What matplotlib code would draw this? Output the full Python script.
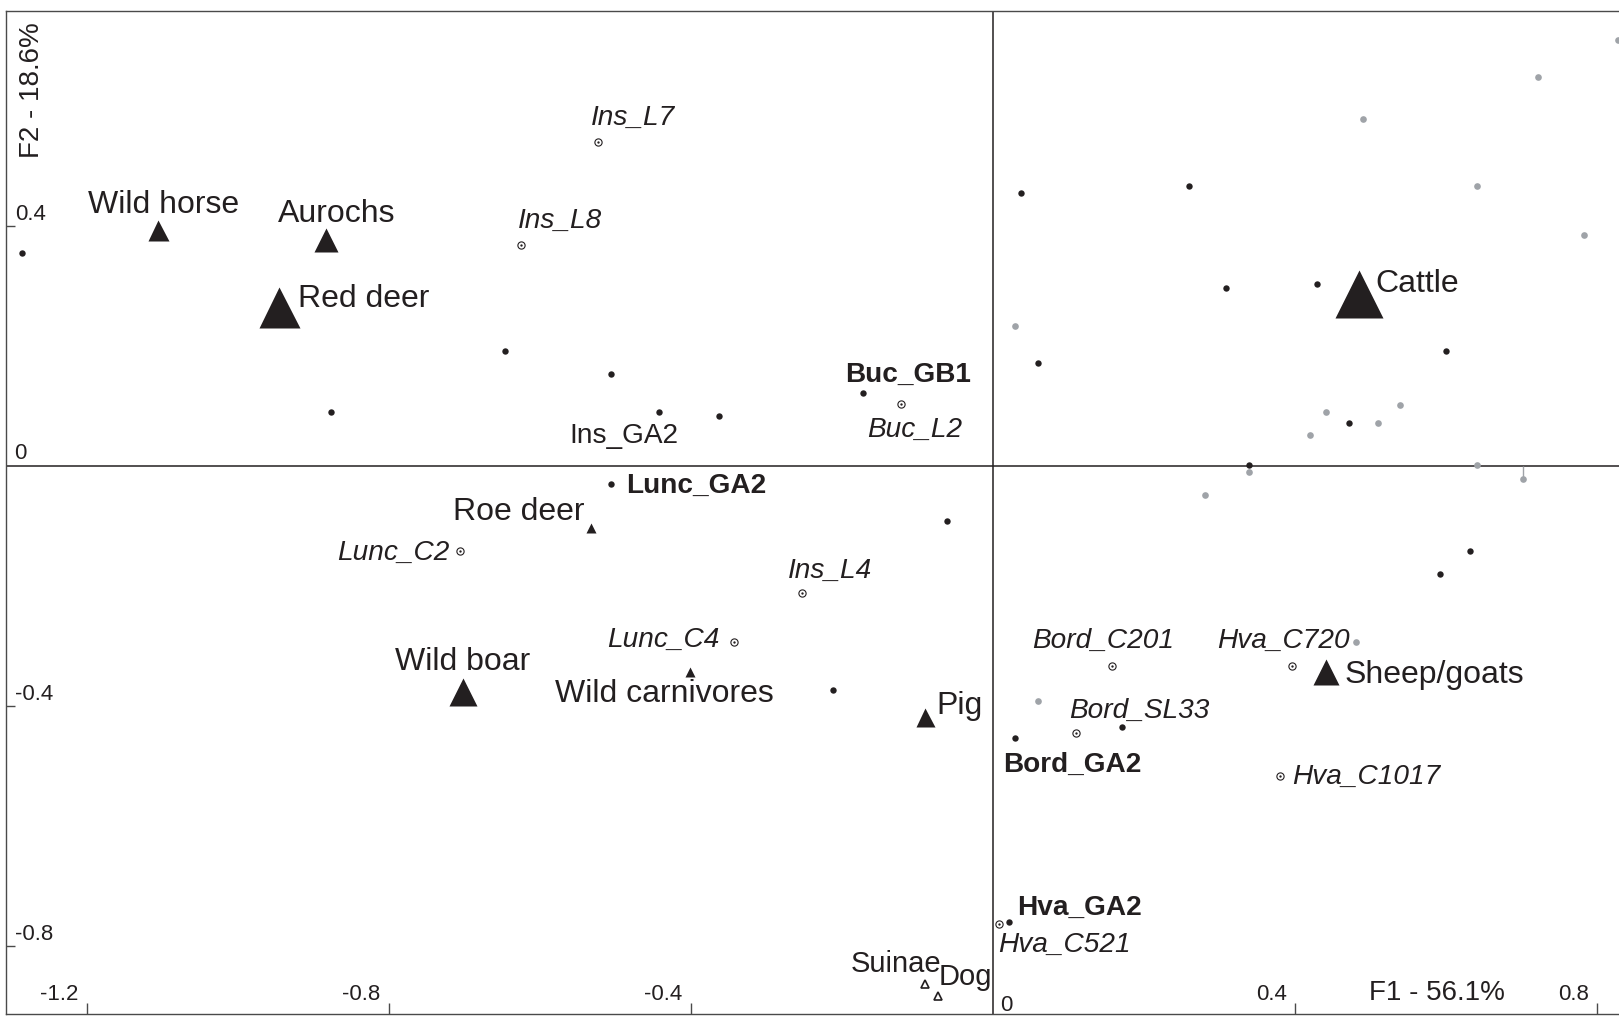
import matplotlib
matplotlib.use('Agg')
import matplotlib.pyplot as plt

# ---------------- data ----------------
species = ['Wild horse', 'Aurochs', 'Red deer', 'Cattle', 'Roe deer',
           'Wild boar', 'Wild carnivores', 'Pig', 'Sheep/goats']
species_f1 = [-1.106, -0.883, -0.946, 0.485, -0.532, -0.702, -0.401, -0.090, 0.441]
species_f2 = [0.393, 0.377, 0.265, 0.287, -0.103, -0.377, -0.343, -0.418, -0.343]

minor_species = ['Suinae', 'Dog']
minor_f1 = [-0.089, -0.072]
minor_f2 = [-0.863, -0.883]

sites = ['Ins_L7', 'Ins_L8', 'Buc_L2', 'Lunc_C2', 'Ins_L4', 'Lunc_C4',
         'Bord_C201', 'Hva_C720', 'Bord_SL33', 'Hva_C1017', 'Hva_C521']
site_f1 = [-0.523, -0.625, -0.121, -0.705, -0.253, -0.342, 0.158, 0.397, 0.110, 0.381, 0.008]
site_f2 = [0.540, 0.368, 0.103, -0.142, -0.212, -0.293, -0.333, -0.333, -0.445, -0.517, -0.763]

assemblages = ['Buc_GB1', 'Lunc_GA2', 'Bord_GA2', 'Hva_GA2', 'Ins_GA2']
asm_f1 = [-0.172, -0.505, 0.029, 0.021, -0.442]
asm_f2 = [0.122, -0.030, -0.453, -0.760, 0.090]

black_f1 = [-1.286, -0.877, -0.646, -0.505, -0.363, -0.061, -0.212, 0.171, 0.632, 0.592,
            0.038, 0.260, 0.309, 0.429, 0.601, 0.060, 0.472, 0.339]
black_f2 = [0.355, 0.090, 0.192, 0.153, 0.083, -0.092, -0.373, -0.435, -0.142, -0.180,
            0.455, 0.467, 0.297, 0.303, 0.192, 0.172, 0.072, 0.002]

gray_f1 = [0.829, 0.722, 0.490, 0.641, 0.783, 0.029, 0.441, 0.540, 0.511, 0.420,
           0.641, 0.339, 0.703, 0.281, 0.481, 0.060]
gray_f2 = [0.710, 0.648, 0.578, 0.467, 0.385, 0.233, 0.090, 0.102, 0.072, 0.052,
           0.002, -0.010, -0.022, -0.048, -0.293, -0.392]

xtick_vals = [-1.2, -0.8, -0.4, 0.4, 0.8]
xtick_labels = ['-1.2', '-0.8', '-0.4', '0.4', '0.8']
ytick_vals = [0.4, -0.4, -0.8]
ytick_labels = ['0.4', '-0.4', '-0.8']
xlabel = 'F1 - 56.1%'
ylabel = 'F2 - 18.6%'

# ---------------- style ----------------
BLACK = '#231f20'
GRAY = '#9fa3a8'
FRAME = '#4a4a4a'
FONT = 'Liberation Sans'
PX = 72.0 / 100.0  # pixels -> points at dpi 100

species_px = [21, 24, 41, 48, 10, 28, 10, 19, 27]
# label offsets in pixels (dx right, dy up), horizontal alignment
species_lab = [(6, 17, 'center'), (11, 18, 'center'), (19, 0, 'left'), (17, 2, 'left'),
               (-7, 8, 'right'), (0, 22, 'center'), (-26, -30, 'center'), (12, 3, 'left'),
               (19, -11, 'left')]
minor_lab = [(16, 12, 'right'), (0, 11, 'left')]
site_lab = [(35, 17, 'center'), (39, 17, 'center'), (13, -33, 'center'), (-11, -9, 'right'),
            (28, 15, 'center'), (-15, -5, 'right'), (-9, 18, 'center'), (-9, 18, 'center'),
            (64, 15, 'center'), (12, -8, 'left'), (-1, -28, 'left')]
asm_lab = [(-18, 11, 'left', 'bold'), (15, -9, 'left', 'bold'), (-11, -34, 'left', 'bold'),
           (9, 7, 'left', 'bold'), (-35, -31, 'center', 'normal')]

SPECIES_FS = 23
MINOR_FS = 21
LABEL_FS = 20.2
TICK_FS = 16
TITLE_FS = 20

fig = plt.figure(figsize=(16.19, 10.21), dpi=100)
W, H = 1619.0, 1021.0
ax = fig.add_axes([6 / W, 7 / H, (1620 - 6) / W, (1014 - 11) / H])
ax.set_xlim(-1.307, 0.831)
ax.set_ylim(-0.913, 0.758)

for s in ['left', 'top', 'bottom']:
    ax.spines[s].set_color(FRAME)
    ax.spines[s].set_linewidth(1.0)
ax.spines['right'].set_visible(False)

ax.set_xticks(xtick_vals)
ax.set_yticks(ytick_vals)
ax.tick_params(axis='x', direction='in', length=8, width=1.0, color=FRAME,
               labelbottom=False, top=False)
ax.tick_params(axis='y', direction='in', length=6.5, width=1.0, color=FRAME,
               labelleft=False, right=False)

# central axes
ax.axhline(0, color=BLACK, lw=1.1, zorder=1)
ax.axvline(0, color=BLACK, lw=1.1, zorder=1)

# tick labels
for v, t in zip(xtick_vals, xtick_labels):
    ax.annotate(t, xy=(v, 0), xycoords=('data', 'axes fraction'),
                xytext=(-8 * PX, 14 * PX), textcoords='offset points',
                ha='right', va='baseline', fontsize=TICK_FS, family=FONT, color=BLACK)
ax.annotate('0', xy=(0, 0), xycoords=('data', 'axes fraction'),
            xytext=(7 * PX, 3 * PX), textcoords='offset points',
            ha='left', va='baseline', fontsize=TICK_FS, family=FONT, color=BLACK)
for v, t in zip(ytick_vals, ytick_labels):
    ax.annotate(t, xy=(0, v), xycoords=('axes fraction', 'data'),
                xytext=(9 * PX, 6 * PX), textcoords='offset points',
                ha='left', va='baseline', fontsize=TICK_FS, family=FONT, color=BLACK)
ax.annotate('0', xy=(0, 0), xycoords=('axes fraction', 'data'),
            xytext=(8 * PX, 7 * PX), textcoords='offset points',
            ha='left', va='baseline', fontsize=TICK_FS, family=FONT, color=BLACK)

# axis titles
fig.text(1437 / W, 1 - 1000 / H, xlabel, ha='center', va='baseline',
         fontsize=TITLE_FS, family=FONT, color=BLACK)
fig.text(32 / W, 1 - 90 / H, ylabel, ha='center', va='center', rotation=90,
         fontsize=TITLE_FS, family=FONT, color=BLACK)

# gray points (with a small leader for one of them)
ax.vlines(gray_f1[12], gray_f2[12], 0, color=GRAY, lw=1.0, zorder=2)
ax.plot(gray_f1, gray_f2, 'o', ms=4.8, color=GRAY, mec='none', zorder=3)

# black points
ax.plot(black_f1, black_f2, 'o', ms=4.6, color=BLACK, mec='none', zorder=4)
ax.plot(asm_f1, asm_f2, 'o', ms=4.6, color=BLACK, mec='none', zorder=4)

# sites (circle with centre dot)
ax.plot(site_f1, site_f2, 'o', ms=5.2, mfc='white', mec=BLACK, mew=0.8, zorder=4)
ax.plot(site_f1, site_f2, 'o', ms=1.7, color=BLACK, mec='none', zorder=5)

# species triangles
for x, y, px in zip(species_f1, species_f2, species_px):
    ax.plot(x, y, '^', ms=px * PX, color=BLACK, mec='none', zorder=5)
ax.plot(minor_f1, minor_f2, '^', ms=6.0, mfc='white', mec=BLACK,
        mew=1.2, zorder=5, linestyle='none')

# labels
for name, x, y, (dx, dy, ha) in zip(species, species_f1, species_f2, species_lab):
    ax.annotate(name, xy=(x, y), xytext=(dx * PX, dy * PX), textcoords='offset points',
                ha=ha, va='baseline', fontsize=SPECIES_FS, family=FONT, color=BLACK)
for name, x, y, (dx, dy, ha) in zip(minor_species, minor_f1, minor_f2, minor_lab):
    ax.annotate(name, xy=(x, y), xytext=(dx * PX, dy * PX), textcoords='offset points',
                ha=ha, va='baseline', fontsize=MINOR_FS, family=FONT, color=BLACK)
for name, x, y, (dx, dy, ha) in zip(sites, site_f1, site_f2, site_lab):
    ax.annotate(name, xy=(x, y), xytext=(dx * PX, dy * PX), textcoords='offset points',
                ha=ha, va='baseline', fontsize=LABEL_FS, family=FONT, style='italic',
                color=BLACK)
for name, x, y, (dx, dy, ha, wt) in zip(assemblages, asm_f1, asm_f2, asm_lab):
    ax.annotate(name, xy=(x, y), xytext=(dx * PX, dy * PX), textcoords='offset points',
                ha=ha, va='baseline', fontsize=LABEL_FS, family=FONT, weight=wt,
                color=BLACK)

fig.savefig('out.png', dpi=100)
